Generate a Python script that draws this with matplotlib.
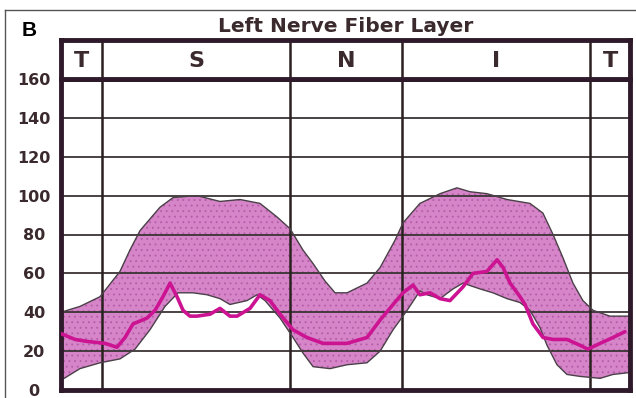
import matplotlib
matplotlib.use('Agg')
import matplotlib.pyplot as plt
from matplotlib.lines import Line2D

# ---- data (x in degrees around the disc, 0..360; y in microns) ----
upper_deg = [0, 12.0, 24.7, 37.3, 43.6, 50.0, 62.6, 70.9, 86.0, 100.6, 113.3, 125.9, 136.7,
             144.9, 153.1, 159.5, 167.1, 173.4, 181.0, 193.6, 201.9, 211.3, 216.4, 227.1,
             239.8, 250.5, 258.8, 269.5, 282.2, 296.7, 304.9, 311.3, 317.6, 323.9, 330.2,
             336.6, 347.3, 360]
upper_val = [40, 43, 48, 61, 72, 82, 94, 99, 100, 97, 98, 96, 89,
             83, 72, 65, 56, 50, 50, 55, 63, 77, 86, 96,
             101, 104, 102, 101, 98, 96, 91, 80, 68, 55, 46,
             41, 38, 38]

lower_deg = [0, 12.0, 24.7, 37.3, 46.8, 56.3, 65.8, 74.0, 83.5, 92.4, 100.6, 106.9, 117.7,
             124.0, 129.1, 138.6, 146.8, 153.1, 159.5, 170.2, 181.0, 193.6, 201.9, 210.1,
             219.0, 227.1, 231.6, 239.8, 248.0, 254.3, 265.1, 273.3, 282.2, 290.4, 296.7,
             303.1, 307.5, 313.8, 320.1, 328.4, 341.1, 349.2, 360]
lower_val = [5, 11, 14, 16, 21, 31, 43, 50, 50, 49, 47, 44, 46,
             49, 46, 37, 27, 19, 12, 11, 13, 14, 20, 31,
             41, 51, 49, 47, 52, 55, 52, 50, 47, 45, 41,
             32, 23, 13, 8, 7, 6, 8, 9]

tsnit_deg = [0, 8.9, 16.5, 27.8, 35.4, 40.5, 45.6, 54.4, 59.5, 64.5, 69.0, 73.4, 77.2,
             81.6, 86.0, 94.3, 100.6, 106.9, 111.4, 119.6, 125.9, 132.2, 138.6, 146.8,
             155.6, 165.8, 181.0, 193.6, 201.9, 210.1, 216.4, 222.7, 227.1, 233.5, 239.8,
             246.1, 254.3, 260.7, 269.5, 275.9, 279.7, 284.1, 290.4, 293.6, 298.6, 305.0,
             311.3, 320.1, 328.4, 333.4, 341.1, 349.2, 356.8]
tsnit_val = [29, 26, 25, 24, 22, 27, 34, 37, 41, 48, 55, 48, 41,
             38, 38, 39, 42, 38, 38, 42, 49, 46, 39, 31,
             27, 24, 24, 27, 36, 44, 50, 54, 49, 50, 47,
             46, 53, 60, 61, 67, 63, 55, 48, 44, 34, 27,
             26, 26, 23, 21, 24, 27, 30]

sector_labels = ['T', 'S', 'N', 'I', 'T']
sector_bounds = [0, 26, 145, 216, 335, 360]
y_ticks = [0, 20, 40, 60, 80, 100, 120, 140, 160]

title_text = 'Left Nerve Fiber Layer'
panel_label = 'B'

# ---- layout ----
W, H = 636, 398
L, R, TOP, BOT, HTOP = 61, 630, 79, 390, 40
txt_col = '#3a2a2e'
frame_col = '#2e1a2a'
grid_col = '#3a3434'

fig = plt.figure(figsize=(W / 100, H / 100), dpi=100)
fig.patch.set_facecolor('white')

ax = fig.add_axes([L / W, (H - BOT) / H, (R - L) / W, (BOT - TOP) / H])
hax = fig.add_axes([L / W, (H - TOP) / H, (R - L) / W, (TOP - HTOP) / H])

# band
plt.rcParams['hatch.linewidth'] = 0.6
poly_x = list(upper_deg) + list(lower_deg[::-1])
poly_y = list(upper_val) + list(lower_val[::-1])
ax.fill(poly_x, poly_y, facecolor='#d585c8', edgecolor='none', zorder=1)
ax.fill(poly_x, poly_y, facecolor='none', edgecolor='#b45ca8', hatch='...',
        linewidth=0, zorder=1.1)
ax.plot(upper_deg, upper_val, color='#4a4048', lw=1.0, zorder=2.5,
        solid_joinstyle='round')
ax.plot(lower_deg, lower_val, color='#4a4048', lw=1.0, zorder=2.5,
        solid_joinstyle='round')

# grid
for yv in y_ticks[1:-1]:
    ax.axhline(yv, color=grid_col, lw=1.3, zorder=2)
for xv in sector_bounds[1:-1]:
    ax.axvline(xv, color='#2a2020', lw=1.8, zorder=2)

# TSNIT line
ax.plot(tsnit_deg, tsnit_val, color='#cc1493', lw=2.6, zorder=3,
        solid_joinstyle='round', solid_capstyle='round')

ax.set_xlim(0, 360)
ax.set_ylim(0, 160)
ax.set_xticks([])
ax.set_yticks(y_ticks)
ax.tick_params(axis='y', length=0, pad=19.4, labelsize=11.5, labelcolor=txt_col)
for lbl in ax.get_yticklabels():
    lbl.set_ha('center')
    lbl.set_fontweight('bold')
for sp in ax.spines.values():
    sp.set_linewidth(3.5)
    sp.set_color(frame_col)

# header
hax.set_xlim(0, 360)
hax.set_ylim(0, 1)
hax.set_xticks([])
hax.set_yticks([])
for xv in sector_bounds[1:-1]:
    hax.axvline(xv, color='#2a2020', lw=1.8)
for i, lab in enumerate(sector_labels):
    xc = (sector_bounds[i] + sector_bounds[i + 1]) / 2
    hax.text(xc, 0.45, lab, ha='center', va='center', fontsize=16,
             fontweight='bold', color=txt_col)
for sp in hax.spines.values():
    sp.set_linewidth(3.5)
    sp.set_color(frame_col)

# texts
fig.text((L + R) / 2 / W, 1 - 27 / H, title_text, ha='center', va='center',
         fontsize=14.5, fontweight='bold', color=txt_col)
fig.text(22 / W, 1 - 31 / H, panel_label, ha='left', va='center',
         fontsize=15, fontweight='bold', color='black', family='Liberation Sans')

# outer border (top and left edges visible)
fig.add_artist(Line2D([5 / W, 5 / W], [0, 1 - 10 / H], transform=fig.transFigure,
                      color='#555555', lw=1))
fig.add_artist(Line2D([5 / W, 1], [1 - 10 / H, 1 - 10 / H], transform=fig.transFigure,
                      color='#555555', lw=1))

fig.savefig('out.png', dpi=100)
